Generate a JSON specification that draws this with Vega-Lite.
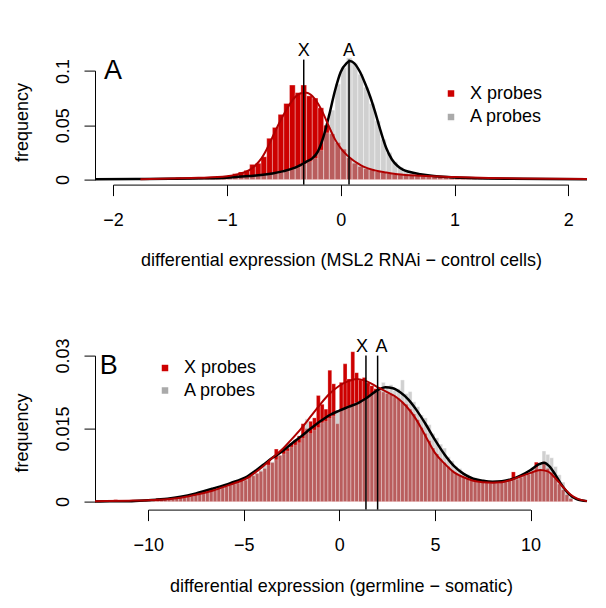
{
  "$schema": "https://vega.github.io/schema/vega-lite/v6.json",
  "background": "white",
  "padding": {"left": 13, "top": 41.6, "right": 0, "bottom": 0},
  "bounds": "flush",
  "spacing": 171,
  "resolve": {"scale": {"color": "independent"}, "legend": {"color": "independent"}},
  "config": {
    "font": "Liberation Sans",
    "view": {"stroke": null},
    "axis": {"domainColor": "black", "tickColor": "black", "labelColor": "black", "titleColor": "black", "labelFontSize": 18, "titleFontSize": 18, "titleFontWeight": "normal", "tickSize": 11, "grid": false, "labelFlush": false, "labelOverlap": false, "domainWidth": 1, "tickWidth": 1},
    "legend": {"labelFontSize": 18, "labelColor": "black", "symbolType": "square", "symbolSize": 64, "labelOffset": 10, "rowPadding": 5.5, "padding": 0, "symbolOpacity": 1, "orient": "none"},
    "title": {"fontSize": 27, "fontWeight": "normal", "color": "black", "anchor": "start", "frame": "group", "baseline": "alphabetic", "offset": 0}
  },
  "datasets": {
    "hAX": [{"a":-1.75,"b":-1.7,"f":0.0004},{"a":-1.7,"b":-1.65,"f":0.0004},{"a":-1.65,"b":-1.6,"f":0.0006},{"a":-1.6,"b":-1.55,"f":0.0006},{"a":-1.55,"b":-1.5,"f":0.0008},{"a":-1.5,"b":-1.45,"f":0.001},{"a":-1.45,"b":-1.4,"f":0.0018},{"a":-1.4,"b":-1.35,"f":0.0012},{"a":-1.35,"b":-1.3,"f":0.0012},{"a":-1.3,"b":-1.25,"f":0.0014},{"a":-1.25,"b":-1.2,"f":0.0016},{"a":-1.2,"b":-1.15,"f":0.0018},{"a":-1.15,"b":-1.1,"f":0.0022},{"a":-1.1,"b":-1.05,"f":0.0024},{"a":-1.05,"b":-1.0,"f":0.0028},{"a":-1.0,"b":-0.95,"f":0.0035},{"a":-0.95,"b":-0.9,"f":0.0055},{"a":-0.9,"b":-0.85,"f":0.007},{"a":-0.85,"b":-0.8,"f":0.0085},{"a":-0.8,"b":-0.75,"f":0.014},{"a":-0.75,"b":-0.7,"f":0.015},{"a":-0.7,"b":-0.65,"f":0.021},{"a":-0.65,"b":-0.6,"f":0.038},{"a":-0.6,"b":-0.55,"f":0.048},{"a":-0.55,"b":-0.5,"f":0.06},{"a":-0.5,"b":-0.45,"f":0.07},{"a":-0.45,"b":-0.4,"f":0.087},{"a":-0.4,"b":-0.35,"f":0.08},{"a":-0.35,"b":-0.3,"f":0.087},{"a":-0.3,"b":-0.25,"f":0.077},{"a":-0.25,"b":-0.2,"f":0.075},{"a":-0.2,"b":-0.15,"f":0.066},{"a":-0.15,"b":-0.1,"f":0.05},{"a":-0.1,"b":-0.05,"f":0.042},{"a":-0.05,"b":0,"f":0.034},{"a":0,"b":0.05,"f":0.028},{"a":0.05,"b":0.1,"f":0.02},{"a":0.1,"b":0.15,"f":0.015},{"a":0.15,"b":0.2,"f":0.012},{"a":0.2,"b":0.25,"f":0.01},{"a":0.25,"b":0.3,"f":0.009},{"a":0.3,"b":0.35,"f":0.0075},{"a":0.35,"b":0.4,"f":0.0065},{"a":0.4,"b":0.45,"f":0.0058},{"a":0.45,"b":0.5,"f":0.005},{"a":0.5,"b":0.55,"f":0.0045},{"a":0.55,"b":0.6,"f":0.004},{"a":0.6,"b":0.65,"f":0.0038},{"a":0.65,"b":0.7,"f":0.0034},{"a":0.7,"b":0.75,"f":0.0032},{"a":0.75,"b":0.8,"f":0.003},{"a":0.8,"b":0.85,"f":0.0028},{"a":0.85,"b":0.9,"f":0.0026},{"a":0.9,"b":0.95,"f":0.0024},{"a":0.95,"b":1.0,"f":0.0022},{"a":1.0,"b":1.05,"f":0.002},{"a":1.05,"b":1.1,"f":0.0018},{"a":1.1,"b":1.15,"f":0.0016},{"a":1.15,"b":1.2,"f":0.0015},{"a":1.2,"b":1.25,"f":0.0013},{"a":1.25,"b":1.3,"f":0.0012},{"a":1.3,"b":1.35,"f":0.0011},{"a":1.35,"b":1.4,"f":0.001},{"a":1.4,"b":1.45,"f":0.0009},{"a":1.45,"b":1.5,"f":0.0008}],
    "hAA": [{"a":-1.5,"b":-1.45,"f":0.0006},{"a":-1.45,"b":-1.4,"f":0.0006},{"a":-1.4,"b":-1.35,"f":0.0007},{"a":-1.35,"b":-1.3,"f":0.0008},{"a":-1.3,"b":-1.25,"f":0.0008},{"a":-1.25,"b":-1.2,"f":0.0009},{"a":-1.2,"b":-1.15,"f":0.001},{"a":-1.15,"b":-1.1,"f":0.0011},{"a":-1.1,"b":-1.05,"f":0.0012},{"a":-1.05,"b":-1.0,"f":0.0014},{"a":-1.0,"b":-0.95,"f":0.0016},{"a":-0.95,"b":-0.9,"f":0.0019},{"a":-0.9,"b":-0.85,"f":0.0022},{"a":-0.85,"b":-0.8,"f":0.0026},{"a":-0.8,"b":-0.75,"f":0.0031},{"a":-0.75,"b":-0.7,"f":0.0036},{"a":-0.7,"b":-0.65,"f":0.0043},{"a":-0.65,"b":-0.6,"f":0.005},{"a":-0.6,"b":-0.55,"f":0.0058},{"a":-0.55,"b":-0.5,"f":0.0068},{"a":-0.5,"b":-0.45,"f":0.008},{"a":-0.45,"b":-0.4,"f":0.0095},{"a":-0.4,"b":-0.35,"f":0.0115},{"a":-0.35,"b":-0.3,"f":0.014},{"a":-0.3,"b":-0.25,"f":0.0165},{"a":-0.25,"b":-0.2,"f":0.0195},{"a":-0.2,"b":-0.15,"f":0.027},{"a":-0.15,"b":-0.1,"f":0.043},{"a":-0.1,"b":-0.05,"f":0.064},{"a":-0.05,"b":0,"f":0.088},{"a":0,"b":0.05,"f":0.103},{"a":0.05,"b":0.1,"f":0.112},{"a":0.1,"b":0.15,"f":0.107},{"a":0.15,"b":0.2,"f":0.097},{"a":0.2,"b":0.25,"f":0.085},{"a":0.25,"b":0.3,"f":0.07},{"a":0.3,"b":0.35,"f":0.054},{"a":0.35,"b":0.4,"f":0.037},{"a":0.4,"b":0.45,"f":0.025},{"a":0.45,"b":0.5,"f":0.0165},{"a":0.5,"b":0.55,"f":0.0115},{"a":0.55,"b":0.6,"f":0.009},{"a":0.6,"b":0.65,"f":0.007},{"a":0.65,"b":0.7,"f":0.0056},{"a":0.7,"b":0.75,"f":0.0046},{"a":0.75,"b":0.8,"f":0.004},{"a":0.8,"b":0.85,"f":0.0035},{"a":0.85,"b":0.9,"f":0.003},{"a":0.9,"b":0.95,"f":0.0026},{"a":0.95,"b":1.0,"f":0.0023},{"a":1.0,"b":1.05,"f":0.002},{"a":1.05,"b":1.1,"f":0.0018},{"a":1.1,"b":1.15,"f":0.0016},{"a":1.15,"b":1.2,"f":0.0014},{"a":1.2,"b":1.25,"f":0.0012},{"a":1.25,"b":1.3,"f":0.0011},{"a":1.3,"b":1.35,"f":0.001},{"a":1.35,"b":1.4,"f":0.0009},{"a":1.4,"b":1.45,"f":0.0008},{"a":1.45,"b":1.5,"f":0.0007},{"a":1.5,"b":1.55,"f":0.0006}],
    "dAA": [{"v":-2.159,"f":0.0004},{"v":-1.8,"f":0.0006},{"v":-1.5,"f":0.0008},{"v":-1.2,"f":0.0012},{"v":-1.0,"f":0.0018},{"v":-0.8,"f":0.0032},{"v":-0.7,"f":0.0042},{"v":-0.6,"f":0.0057},{"v":-0.5,"f":0.0078},{"v":-0.4,"f":0.011},{"v":-0.35,"f":0.0135},{"v":-0.3,"f":0.0165},{"v":-0.25,"f":0.0195},{"v":-0.2,"f":0.026},{"v":-0.15,"f":0.04},{"v":-0.1,"f":0.06},{"v":-0.05,"f":0.082},{"v":0,"f":0.099},{"v":0.05,"f":0.107},{"v":0.08,"f":0.109},{"v":0.12,"f":0.107},{"v":0.17,"f":0.099},{"v":0.22,"f":0.087},{"v":0.26,"f":0.076},{"v":0.3,"f":0.063},{"v":0.35,"f":0.045},{"v":0.4,"f":0.029},{"v":0.45,"f":0.0185},{"v":0.5,"f":0.0125},{"v":0.55,"f":0.009},{"v":0.6,"f":0.0072},{"v":0.7,"f":0.005},{"v":0.8,"f":0.0035},{"v":0.9,"f":0.0026},{"v":1.0,"f":0.002},{"v":1.2,"f":0.0013},{"v":1.5,"f":0.0008},{"v":1.8,"f":0.0005},{"v":2.164,"f":0.0003}],
    "dAX": [{"v":-1.76,"f":0.0003},{"v":-1.5,"f":0.001},{"v":-1.25,"f":0.0016},{"v":-1.0,"f":0.003},{"v":-0.9,"f":0.005},{"v":-0.8,"f":0.009},{"v":-0.75,"f":0.013},{"v":-0.7,"f":0.019},{"v":-0.65,"f":0.028},{"v":-0.6,"f":0.039},{"v":-0.55,"f":0.05},{"v":-0.5,"f":0.06},{"v":-0.45,"f":0.069},{"v":-0.4,"f":0.076},{"v":-0.35,"f":0.0795},{"v":-0.3,"f":0.08},{"v":-0.25,"f":0.077},{"v":-0.2,"f":0.07},{"v":-0.15,"f":0.06},{"v":-0.1,"f":0.048},{"v":-0.05,"f":0.037},{"v":0,"f":0.029},{"v":0.05,"f":0.023},{"v":0.1,"f":0.0185},{"v":0.15,"f":0.015},{"v":0.2,"f":0.012},{"v":0.3,"f":0.0085},{"v":0.4,"f":0.0065},{"v":0.5,"f":0.005},{"v":0.7,"f":0.0035},{"v":1.0,"f":0.0023},{"v":1.3,"f":0.0015},{"v":1.6,"f":0.001},{"v":2.164,"f":0.0005}],
    "mA": [{"label":"X","m":-0.325},{"label":"A","m":0.073}],
    "hBA": [{"a":-12,"b":-11.8,"f":0.0001},{"a":-11.8,"b":-11.6,"f":0.0001},{"a":-11.6,"b":-11.4,"f":0.0001},{"a":-11.4,"b":-11.2,"f":0.0001},{"a":-11.2,"b":-11,"f":0.0001},{"a":-11,"b":-10.8,"f":0.0001},{"a":-10.8,"b":-10.6,"f":0.0002},{"a":-10.6,"b":-10.4,"f":0.0001},{"a":-10.4,"b":-10.2,"f":0.0002},{"a":-10.2,"b":-10,"f":0.0003},{"a":-10,"b":-9.8,"f":0.0003},{"a":-9.8,"b":-9.6,"f":0.0003},{"a":-9.6,"b":-9.4,"f":0.0004},{"a":-9.4,"b":-9.2,"f":0.0004},{"a":-9.2,"b":-9,"f":0.0005},{"a":-9,"b":-8.8,"f":0.0006},{"a":-8.8,"b":-8.6,"f":0.0006},{"a":-8.6,"b":-8.4,"f":0.0008},{"a":-8.4,"b":-8.2,"f":0.0009},{"a":-8.2,"b":-8,"f":0.001},{"a":-8,"b":-7.8,"f":0.0012},{"a":-7.8,"b":-7.6,"f":0.0013},{"a":-7.6,"b":-7.4,"f":0.0016},{"a":-7.4,"b":-7.2,"f":0.0017},{"a":-7.2,"b":-7,"f":0.002},{"a":-7,"b":-6.8,"f":0.0021},{"a":-6.8,"b":-6.6,"f":0.0024},{"a":-6.6,"b":-6.4,"f":0.0026},{"a":-6.4,"b":-6.2,"f":0.0029},{"a":-6.2,"b":-6,"f":0.003},{"a":-6,"b":-5.8,"f":0.0033},{"a":-5.8,"b":-5.6,"f":0.0036},{"a":-5.6,"b":-5.4,"f":0.0037},{"a":-5.4,"b":-5.2,"f":0.0042},{"a":-5.2,"b":-5,"f":0.0043},{"a":-5,"b":-4.8,"f":0.0047},{"a":-4.8,"b":-4.6,"f":0.0049},{"a":-4.6,"b":-4.4,"f":0.0055},{"a":-4.4,"b":-4.2,"f":0.0058},{"a":-4.2,"b":-4,"f":0.0065},{"a":-4,"b":-3.8,"f":0.0074},{"a":-3.8,"b":-3.6,"f":0.0075},{"a":-3.6,"b":-3.4,"f":0.0082},{"a":-3.4,"b":-3.2,"f":0.0086},{"a":-3.2,"b":-3,"f":0.0095},{"a":-3,"b":-2.8,"f":0.0098},{"a":-2.8,"b":-2.6,"f":0.0104},{"a":-2.6,"b":-2.4,"f":0.0112},{"a":-2.4,"b":-2.2,"f":0.0116},{"a":-2.2,"b":-2,"f":0.0121},{"a":-2,"b":-1.8,"f":0.013},{"a":-1.8,"b":-1.6,"f":0.017},{"a":-1.6,"b":-1.4,"f":0.014},{"a":-1.4,"b":-1.2,"f":0.0147},{"a":-1.2,"b":-1,"f":0.0152},{"a":-1,"b":-0.8,"f":0.0162},{"a":-0.8,"b":-0.6,"f":0.0165},{"a":-0.6,"b":-0.4,"f":0.0171},{"a":-0.4,"b":-0.2,"f":0.0176},{"a":-0.2,"b":0,"f":0.0184},{"a":0,"b":0.2,"f":0.0188},{"a":0.2,"b":0.4,"f":0.019},{"a":0.4,"b":0.6,"f":0.0196},{"a":0.6,"b":0.8,"f":0.0198},{"a":0.8,"b":1,"f":0.0203},{"a":1,"b":1.2,"f":0.0205},{"a":1.2,"b":1.4,"f":0.021},{"a":1.4,"b":1.6,"f":0.0214},{"a":1.6,"b":1.8,"f":0.0221},{"a":1.8,"b":2,"f":0.0226},{"a":2,"b":2.2,"f":0.0232},{"a":2.2,"b":2.4,"f":0.0245},{"a":2.4,"b":2.6,"f":0.0238},{"a":2.6,"b":2.8,"f":0.024},{"a":2.8,"b":3,"f":0.0228},{"a":3,"b":3.2,"f":0.0232},{"a":3.2,"b":3.4,"f":0.025},{"a":3.4,"b":3.6,"f":0.0222},{"a":3.6,"b":3.8,"f":0.0226},{"a":3.8,"b":4,"f":0.0205},{"a":4,"b":4.2,"f":0.0195},{"a":4.2,"b":4.4,"f":0.0178},{"a":4.4,"b":4.6,"f":0.0172},{"a":4.6,"b":4.8,"f":0.0158},{"a":4.8,"b":5,"f":0.014},{"a":5,"b":5.2,"f":0.0131},{"a":5.2,"b":5.4,"f":0.0118},{"a":5.4,"b":5.6,"f":0.011},{"a":5.6,"b":5.8,"f":0.0092},{"a":5.8,"b":6,"f":0.0084},{"a":6,"b":6.2,"f":0.0072},{"a":6.2,"b":6.4,"f":0.0068},{"a":6.4,"b":6.6,"f":0.0058},{"a":6.6,"b":6.8,"f":0.0056},{"a":6.8,"b":7,"f":0.005},{"a":7,"b":7.2,"f":0.0049},{"a":7.2,"b":7.4,"f":0.0045},{"a":7.4,"b":7.6,"f":0.0046},{"a":7.6,"b":7.8,"f":0.0041},{"a":7.8,"b":8,"f":0.0043},{"a":8,"b":8.2,"f":0.004},{"a":8.2,"b":8.4,"f":0.0042},{"a":8.4,"b":8.6,"f":0.0041},{"a":8.6,"b":8.8,"f":0.0044},{"a":8.8,"b":9,"f":0.0044},{"a":9,"b":9.2,"f":0.0048},{"a":9.2,"b":9.4,"f":0.0051},{"a":9.4,"b":9.6,"f":0.0052},{"a":9.6,"b":9.8,"f":0.0058},{"a":9.8,"b":10,"f":0.0061},{"a":10,"b":10.2,"f":0.0068},{"a":10.2,"b":10.4,"f":0.007},{"a":10.4,"b":10.6,"f":0.0078},{"a":10.6,"b":10.8,"f":0.0104},{"a":10.8,"b":11,"f":0.0097},{"a":11,"b":11.2,"f":0.009},{"a":11.2,"b":11.4,"f":0.0072},{"a":11.4,"b":11.6,"f":0.0055},{"a":11.6,"b":11.8,"f":0.004},{"a":11.8,"b":12,"f":0.0022},{"a":12,"b":12.2,"f":0.001}],
    "hBX": [{"a":-12,"b":-11.8,"f":0.0001},{"a":-11.8,"b":-11.6,"f":0.0004},{"a":-11.6,"b":-11.4,"f":0.0001},{"a":-11.4,"b":-11.2,"f":0.0001},{"a":-11.2,"b":-11,"f":0.0001},{"a":-11,"b":-10.8,"f":0.0002},{"a":-10.8,"b":-10.6,"f":0.0001},{"a":-10.6,"b":-10.4,"f":0.0002},{"a":-10.4,"b":-10.2,"f":0.0002},{"a":-10.2,"b":-10,"f":0.0003},{"a":-10,"b":-9.8,"f":0.0003},{"a":-9.8,"b":-9.6,"f":0.0002},{"a":-9.6,"b":-9.4,"f":0.0007},{"a":-9.4,"b":-9.2,"f":0.0004},{"a":-9.2,"b":-9,"f":0.0004},{"a":-9,"b":-8.8,"f":0.0005},{"a":-8.8,"b":-8.6,"f":0.0005},{"a":-8.6,"b":-8.4,"f":0.0006},{"a":-8.4,"b":-8.2,"f":0.0009},{"a":-8.2,"b":-8,"f":0.0008},{"a":-8,"b":-7.8,"f":0.001},{"a":-7.8,"b":-7.6,"f":0.0011},{"a":-7.6,"b":-7.4,"f":0.0013},{"a":-7.4,"b":-7.2,"f":0.0015},{"a":-7.2,"b":-7,"f":0.0016},{"a":-7,"b":-6.8,"f":0.0019},{"a":-6.8,"b":-6.6,"f":0.0026},{"a":-6.6,"b":-6.4,"f":0.0023},{"a":-6.4,"b":-6.2,"f":0.0026},{"a":-6.2,"b":-6,"f":0.0028},{"a":-6,"b":-5.8,"f":0.0031},{"a":-5.8,"b":-5.6,"f":0.0034},{"a":-5.6,"b":-5.4,"f":0.0036},{"a":-5.4,"b":-5.2,"f":0.0038},{"a":-5.2,"b":-5,"f":0.0045},{"a":-5,"b":-4.8,"f":0.0044},{"a":-4.8,"b":-4.6,"f":0.0052},{"a":-4.6,"b":-4.4,"f":0.0053},{"a":-4.4,"b":-4.2,"f":0.0058},{"a":-4.2,"b":-4,"f":0.0062},{"a":-4,"b":-3.8,"f":0.0068},{"a":-3.8,"b":-3.6,"f":0.0083},{"a":-3.6,"b":-3.4,"f":0.008},{"a":-3.4,"b":-3.2,"f":0.0108},{"a":-3.2,"b":-3,"f":0.0095},{"a":-3,"b":-2.8,"f":0.0108},{"a":-2.8,"b":-2.6,"f":0.011},{"a":-2.6,"b":-2.4,"f":0.012},{"a":-2.4,"b":-2.2,"f":0.0127},{"a":-2.2,"b":-2,"f":0.0135},{"a":-2,"b":-1.8,"f":0.016},{"a":-1.8,"b":-1.6,"f":0.015},{"a":-1.6,"b":-1.4,"f":0.0165},{"a":-1.4,"b":-1.2,"f":0.0172},{"a":-1.2,"b":-1,"f":0.0218},{"a":-1,"b":-0.8,"f":0.02},{"a":-0.8,"b":-0.6,"f":0.019},{"a":-0.6,"b":-0.4,"f":0.027},{"a":-0.4,"b":-0.2,"f":0.0242},{"a":-0.2,"b":0,"f":0.016},{"a":0,"b":0.2,"f":0.0245},{"a":0.2,"b":0.4,"f":0.0283},{"a":0.4,"b":0.6,"f":0.0252},{"a":0.6,"b":0.8,"f":0.0308},{"a":0.8,"b":1,"f":0.0265},{"a":1,"b":1.2,"f":0.025},{"a":1.2,"b":1.4,"f":0.0255},{"a":1.4,"b":1.6,"f":0.0244},{"a":1.6,"b":1.8,"f":0.0238},{"a":1.8,"b":2,"f":0.0232},{"a":2,"b":2.2,"f":0.0228},{"a":2.2,"b":2.4,"f":0.0225},{"a":2.4,"b":2.6,"f":0.0222},{"a":2.6,"b":2.8,"f":0.022},{"a":2.8,"b":3,"f":0.0215},{"a":3,"b":3.2,"f":0.0212},{"a":3.2,"b":3.4,"f":0.0205},{"a":3.4,"b":3.6,"f":0.02},{"a":3.6,"b":3.8,"f":0.019},{"a":3.8,"b":4,"f":0.018},{"a":4,"b":4.2,"f":0.0168},{"a":4.2,"b":4.4,"f":0.0152},{"a":4.4,"b":4.6,"f":0.014},{"a":4.6,"b":4.8,"f":0.0125},{"a":4.8,"b":5,"f":0.011},{"a":5,"b":5.2,"f":0.0098},{"a":5.2,"b":5.4,"f":0.0088},{"a":5.4,"b":5.6,"f":0.008},{"a":5.6,"b":5.8,"f":0.0072},{"a":5.8,"b":6,"f":0.0064},{"a":6,"b":6.2,"f":0.0058},{"a":6.2,"b":6.4,"f":0.0054},{"a":6.4,"b":6.6,"f":0.005},{"a":6.6,"b":6.8,"f":0.0047},{"a":6.8,"b":7,"f":0.0044},{"a":7,"b":7.2,"f":0.0042},{"a":7.2,"b":7.4,"f":0.0041},{"a":7.4,"b":7.6,"f":0.004},{"a":7.6,"b":7.8,"f":0.0039},{"a":7.8,"b":8,"f":0.0038},{"a":8,"b":8.2,"f":0.0039},{"a":8.2,"b":8.4,"f":0.0038},{"a":8.4,"b":8.6,"f":0.004},{"a":8.6,"b":8.8,"f":0.0041},{"a":8.8,"b":9,"f":0.0043},{"a":9,"b":9.2,"f":0.0061},{"a":9.2,"b":9.4,"f":0.0046},{"a":9.4,"b":9.6,"f":0.005},{"a":9.6,"b":9.8,"f":0.0053},{"a":9.8,"b":10,"f":0.0056},{"a":10,"b":10.2,"f":0.006},{"a":10.2,"b":10.4,"f":0.0081},{"a":10.4,"b":10.6,"f":0.0066},{"a":10.6,"b":10.8,"f":0.0082},{"a":10.8,"b":11,"f":0.0068},{"a":11,"b":11.2,"f":0.006},{"a":11.2,"b":11.4,"f":0.0048},{"a":11.4,"b":11.6,"f":0.0036},{"a":11.6,"b":11.8,"f":0.0024},{"a":11.8,"b":12,"f":0.0014},{"a":12,"b":12.2,"f":0.0006}],
    "dBA": [{"v":-12.78,"f":0},{"v":-12,"f":0.0001},{"v":-11,"f":0.0001},{"v":-10,"f":0.0003},{"v":-9,"f":0.0006},{"v":-8.3,"f":0.001},{"v":-7.5,"f":0.0017},{"v":-6.6,"f":0.0027},{"v":-5.7,"f":0.0038},{"v":-4.8,"f":0.0052},{"v":-4,"f":0.0075},{"v":-3.5,"f":0.009},{"v":-3,"f":0.0103},{"v":-2.5,"f":0.0119},{"v":-2,"f":0.0134},{"v":-1.5,"f":0.015},{"v":-1,"f":0.0165},{"v":-0.5,"f":0.0178},{"v":0,"f":0.0187},{"v":0.5,"f":0.0195},{"v":1,"f":0.0203},{"v":1.5,"f":0.0215},{"v":2,"f":0.0229},{"v":2.4,"f":0.0235},{"v":2.8,"f":0.0233},{"v":3.2,"f":0.0224},{"v":3.6,"f":0.021},{"v":4,"f":0.019},{"v":4.5,"f":0.016},{"v":5,"f":0.0127},{"v":5.5,"f":0.0097},{"v":6,"f":0.0073},{"v":6.5,"f":0.0057},{"v":7,"f":0.0047},{"v":7.5,"f":0.0043},{"v":8,"f":0.0041},{"v":8.5,"f":0.0042},{"v":9,"f":0.0046},{"v":9.5,"f":0.0054},{"v":10,"f":0.0065},{"v":10.4,"f":0.0076},{"v":10.7,"f":0.008},{"v":11,"f":0.0072},{"v":11.3,"f":0.0055},{"v":11.6,"f":0.0036},{"v":12,"f":0.0016},{"v":12.4,"f":0.0005},{"v":12.95,"f":0.0001}],
    "dBX": [{"v":-12.78,"f":0.0001},{"v":-11,"f":0.0002},{"v":-10,"f":0.0003},{"v":-9,"f":0.0005},{"v":-8.3,"f":0.0008},{"v":-7.5,"f":0.0014},{"v":-6.6,"f":0.0023},{"v":-5.7,"f":0.0035},{"v":-4.8,"f":0.0049},{"v":-4,"f":0.0072},{"v":-3.5,"f":0.009},{"v":-3,"f":0.0107},{"v":-2.5,"f":0.0128},{"v":-2,"f":0.015},{"v":-1.5,"f":0.0175},{"v":-1,"f":0.02},{"v":-0.5,"f":0.0222},{"v":0,"f":0.0238},{"v":0.5,"f":0.0248},{"v":0.9,"f":0.0252},{"v":1.3,"f":0.0249},{"v":1.7,"f":0.0242},{"v":2.1,"f":0.0233},{"v":2.6,"f":0.0223},{"v":3,"f":0.0214},{"v":3.5,"f":0.0196},{"v":4,"f":0.017},{"v":4.5,"f":0.0135},{"v":5,"f":0.01},{"v":5.5,"f":0.0078},{"v":6,"f":0.006},{"v":6.5,"f":0.005},{"v":7,"f":0.0043},{"v":7.5,"f":0.004},{"v":8,"f":0.0039},{"v":8.5,"f":0.004},{"v":9,"f":0.0045},{"v":9.5,"f":0.0052},{"v":10,"f":0.0059},{"v":10.5,"f":0.0065},{"v":10.9,"f":0.0062},{"v":11.3,"f":0.0048},{"v":11.7,"f":0.003},{"v":12.1,"f":0.0014},{"v":12.5,"f":0.0005},{"v":12.95,"f":0.0001}],
    "mB": [{"label":"X","m":1.39},{"label":"A","m":2.0}]
  },
  "vconcat": [
    {
      "width": 492,
      "height": 125,
      "title": {"text": "A", "dx": 9, "dy": 47.7},
      "layer": [
        {
          "data": {"name": "hAX"},
          "mark": {"type": "bar", "stroke": "white", "strokeWidth": 0.5, "strokeOpacity": 0.6},
          "encoding": {
            "x": {"field": "a", "type": "quantitative", "scale": {"domain": [-2.159, 2.164], "nice": false, "zero": false},
                  "axis": {"values": [-2, -1, 0, 1, 2], "format": ".3~g", "labelPadding": 15.5, "title": "differential expression (MSL2 RNAi \u2212 control cells)", "titlePadding": 22.5, "domainDash": [0, 18.1, 455.2, 1000]}},
            "x2": {"field": "b"},
            "y": {"field": "f", "type": "quantitative", "scale": {"domain": [-0.0046, 0.1104], "nice": false, "zero": false},
                  "axis": {"values": [0, 0.05, 0.1], "format": ".3~g", "labelAngle": -90, "labelAlign": "center", "labelBaseline": "bottom", "labelPadding": 12, "title": "frequency", "titlePadding": 23, "domainDash": [0, 5, 109, 1000]}},
            "y2": {"datum": 0},
            "color": {"datum": "X probes", "type": "nominal", "scale": {"domain": ["X probes", "A probes"], "range": ["#CD0000", "#AAAAAA"]},
                      "legend": {"title": null, "legendX": 347, "legendY": 25, "rowPadding": 5.5, "encode": {"symbols": {"update": {"fill": {"signal": "datum.value === 'A probes' ? '#D2D2D2' : '#CD0000'"}, "stroke": {"signal": "datum.value === 'A probes' ? '#555555' : '#CD0000'"}, "strokeWidth": {"value": 1}}}}}}
          }
        },
        {
          "data": {"name": "hAA"},
          "mark": {"type": "bar", "opacity": 0.55, "stroke": "white", "strokeWidth": 0.5},
          "encoding": {
            "x": {"field": "a", "type": "quantitative"},
            "x2": {"field": "b"},
            "y": {"field": "f", "type": "quantitative"},
            "y2": {"datum": 0},
            "color": {"datum": "A probes", "type": "nominal"}
          }
        },
        {
          "data": {"name": "dAA"},
          "mark": {"type": "line", "color": "black", "strokeWidth": 2.5, "interpolate": "monotone"},
          "encoding": {"x": {"field": "v", "type": "quantitative"}, "y": {"field": "f", "type": "quantitative"}}
        },
        {
          "data": {"name": "dAX"},
          "mark": {"type": "line", "color": "#B00000", "strokeWidth": 2, "interpolate": "monotone"},
          "encoding": {"x": {"field": "v", "type": "quantitative"}, "y": {"field": "f", "type": "quantitative"}}
        },
        {
          "data": {"name": "mA"},
          "mark": {"type": "rule", "color": "black", "strokeWidth": 1.5},
          "encoding": {"x": {"field": "m", "type": "quantitative"}}
        },
        {
          "data": {"name": "mA"},
          "mark": {"type": "text", "baseline": "alphabetic", "align": "center", "dy": -4, "fontSize": 18, "color": "black"},
          "encoding": {"x": {"field": "m", "type": "quantitative"}, "y": {"datum": 0.1104, "type": "quantitative"}, "text": {"field": "label"}}
        }
      ]
    },
    {
      "width": 492,
      "height": 154,
      "title": {"text": "B", "dx": 4.7, "dy": 46},
      "layer": [
        {
          "data": {"name": "hBX"},
          "mark": {"type": "bar", "stroke": "white", "strokeWidth": 0.4, "strokeOpacity": 0.6},
          "encoding": {
            "x": {"field": "a", "type": "quantitative", "scale": {"domain": [-12.78, 12.95], "nice": false, "zero": false},
                  "axis": {"values": [-10, -5, 0, 5, 10], "format": ".3~g", "labelPadding": 15.5, "title": "differential expression (germline \u2212 somatic)", "titlePadding": 23.5, "domainDash": [0, 53.1, 382.4, 1000]}},
            "x2": {"field": "b"},
            "y": {"field": "f", "type": "quantitative", "scale": {"domain": [-0.00164, 0.03], "nice": false, "zero": false},
                  "axis": {"values": [0, 0.015, 0.03], "format": ".3~g", "labelAngle": -90, "labelAlign": "center", "labelBaseline": "bottom", "labelPadding": 12, "title": "frequency", "titlePadding": 23, "domainDash": [0, 8, 146, 1000]}},
            "y2": {"datum": 0},
            "color": {"datum": "X probes", "type": "nominal", "scale": {"domain": ["X probes", "A probes"], "range": ["#CD0000", "#AAAAAA"]},
                      "legend": {"title": null, "legendX": 61, "legendY": 3.5, "rowPadding": 4.5, "encode": {"symbols": {"update": {"fill": {"signal": "datum.value === 'A probes' ? '#D2D2D2' : '#CD0000'"}, "stroke": {"signal": "datum.value === 'A probes' ? '#555555' : '#CD0000'"}, "strokeWidth": {"value": 1}}}}}}
          }
        },
        {
          "data": {"name": "hBA"},
          "mark": {"type": "bar", "opacity": 0.55, "stroke": "white", "strokeWidth": 0.4},
          "encoding": {
            "x": {"field": "a", "type": "quantitative"},
            "x2": {"field": "b"},
            "y": {"field": "f", "type": "quantitative"},
            "y2": {"datum": 0},
            "color": {"datum": "A probes", "type": "nominal"}
          }
        },
        {
          "data": {"name": "dBA"},
          "mark": {"type": "line", "color": "black", "strokeWidth": 2.5, "interpolate": "monotone"},
          "encoding": {"x": {"field": "v", "type": "quantitative"}, "y": {"field": "f", "type": "quantitative"}}
        },
        {
          "data": {"name": "dBX"},
          "mark": {"type": "line", "color": "#B00000", "strokeWidth": 2, "interpolate": "monotone"},
          "encoding": {"x": {"field": "v", "type": "quantitative"}, "y": {"field": "f", "type": "quantitative"}}
        },
        {
          "data": {"name": "mB"},
          "mark": {"type": "rule", "color": "black", "strokeWidth": 1.5},
          "encoding": {"x": {"field": "m", "type": "quantitative"}}
        },
        {
          "data": {"name": "mB"},
          "transform": [{"filter": "datum.label === 'X'"}],
          "mark": {"type": "text", "baseline": "alphabetic", "align": "center", "dy": -4, "dx": -4, "fontSize": 18, "color": "black"},
          "encoding": {"x": {"field": "m", "type": "quantitative"}, "y": {"datum": 0.03, "type": "quantitative"}, "text": {"field": "label"}}
        },
        {
          "data": {"name": "mB"},
          "transform": [{"filter": "datum.label === 'A'"}],
          "mark": {"type": "text", "baseline": "alphabetic", "align": "center", "dy": -4, "dx": 4, "fontSize": 18, "color": "black"},
          "encoding": {"x": {"field": "m", "type": "quantitative"}, "y": {"datum": 0.03, "type": "quantitative"}, "text": {"field": "label"}}
        }
      ]
    }
  ]
}
